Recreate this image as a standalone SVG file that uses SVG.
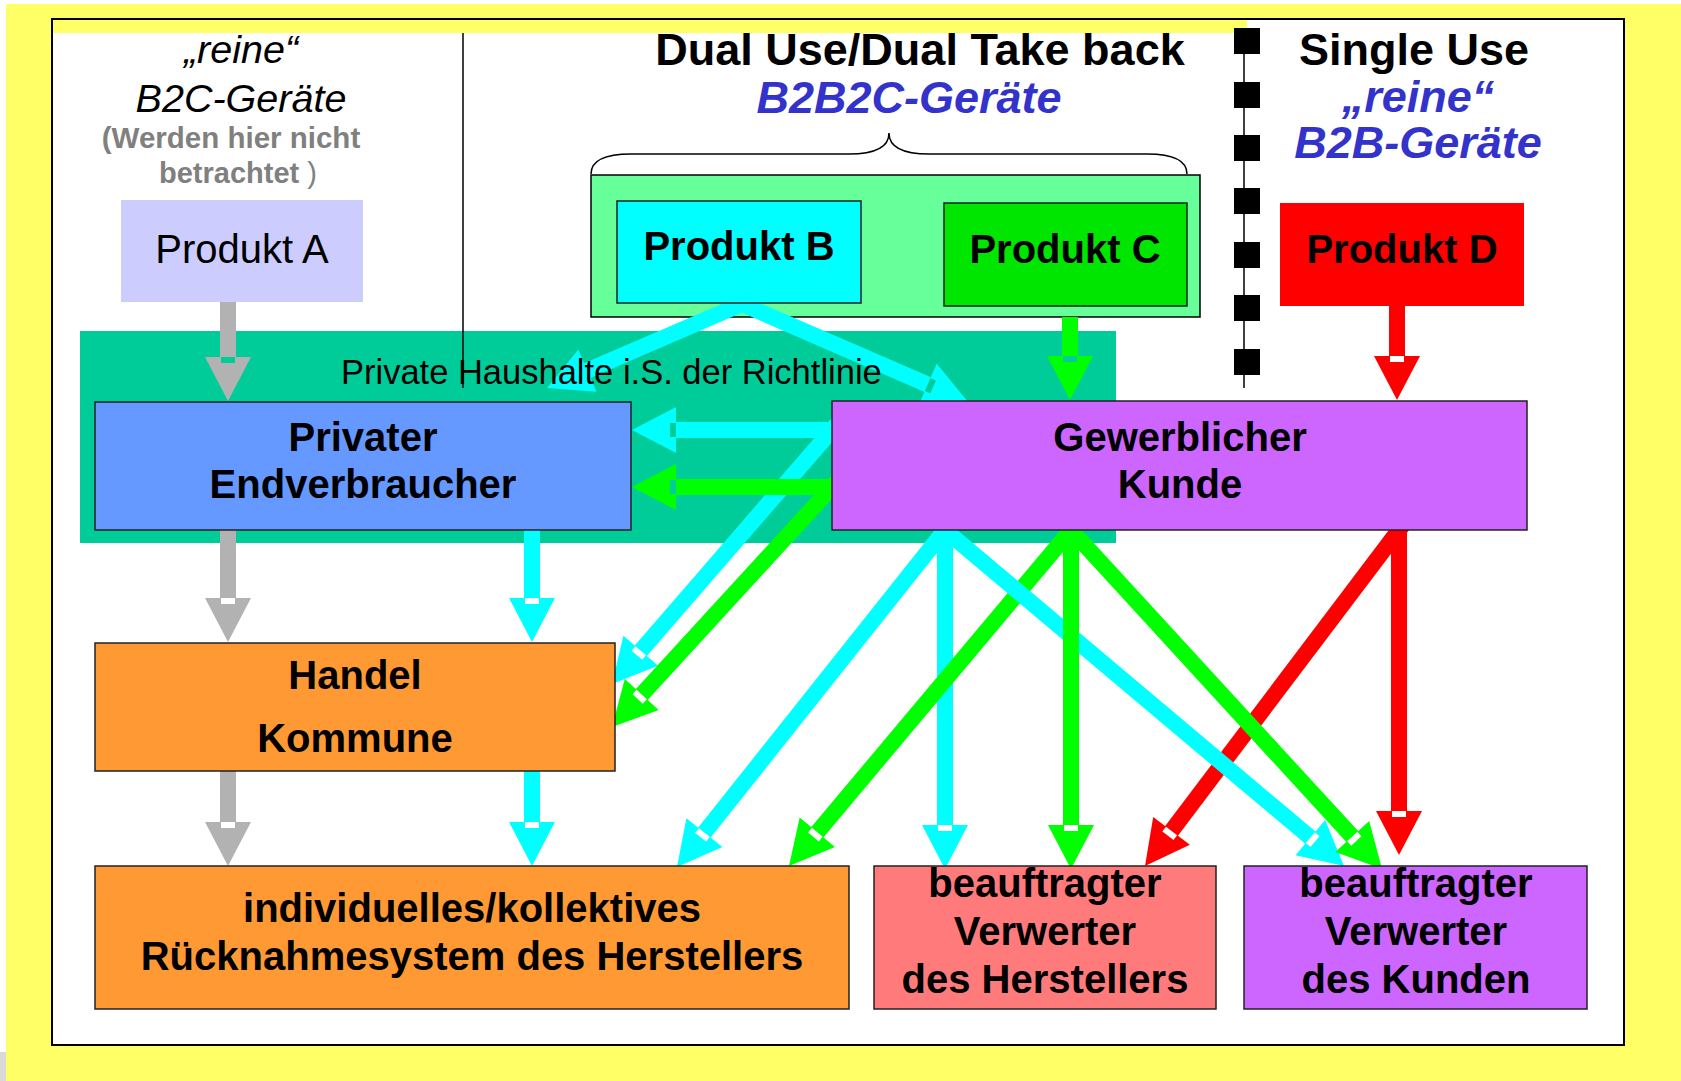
<svg xmlns="http://www.w3.org/2000/svg" xmlns:xlink="http://www.w3.org/1999/xlink" width="1681" height="1081" viewBox="0 0 1681 1081">
<style>
text{font-family:"Liberation Sans",Arial,Helvetica,sans-serif;fill:#000}
.b{font-weight:bold}
.c{text-anchor:middle}
.nt{font-size:40px;font-weight:bold;text-anchor:middle}
.box{stroke:#222;stroke-width:1.5}
.ttl{font-size:45px;font-weight:bold;text-anchor:middle}
.blue{fill:#3333CC;font-style:italic}
#connectors line,#connectors polyline{stroke-width:16;fill:none;stroke-linejoin:miter}
.gy{stroke:#B2B2B2}.cy{stroke:#00FFFF}.gn{stroke:#00FF00}.rd{stroke:#FF0000}
</style>
<defs>
<polygon id="tri" points="0,0 -44,-23 -44,23" fill="currentColor"/>
<g id="hd"><use xlink:href="#tri"/><rect x="-44" y="-7" width="6" height="14" fill="#fff"/></g>
<g id="hdg"><use xlink:href="#tri"/><rect x="-44" y="-7" width="6" height="14" fill="#00CC99"/></g>
</defs>
<rect x="0" y="0" width="1681" height="1081" fill="#fff"/>
<rect x="6" y="4" width="1675" height="1077" fill="#FFFF66"/>
<rect x="0" y="1052" width="6" height="29" fill="#D9D9D9"/>
<rect x="52" y="19" width="1572" height="1026" fill="#fff" stroke="#000" stroke-width="2"/>
<rect x="53" y="20" width="1194" height="13" fill="#FFFF66"/>

<g id="haushalte"><rect x="80" y="331" width="1036" height="212" fill="#00CC99"/></g>
<g id="gruppe-b2b2c">
<rect x="591" y="175" width="609" height="142" fill="#66FF99" stroke="#000" stroke-width="1.5"/>
<path d="M591,174 C591,161 604,154 631,154 L849,154 C875,154 889,148 889,133 C889,148 903,154 929,154 L1147,154 C1174,154 1187,161 1187,174" fill="none" stroke="#000" stroke-width="1.5"/>
</g>

<g id="connectors">
<line class="rd" x1="1397" y1="306" x2="1397" y2="360"/><use xlink:href="#hd" transform="translate(1397,400) rotate(90)" color="#FF0000"/>
<line class="rd" x1="1399" y1="520" x2="1399" y2="815"/><use xlink:href="#hd" transform="translate(1399,855) rotate(90)" color="#FF0000"/>
<line class="rd" x1="1406.2" y1="520.4" x2="1169.1" y2="834.1"/><use xlink:href="#hd" transform="translate(1145,866) rotate(127.1)" color="#FF0000"/>
<line class="gy" x1="228" y1="302" x2="228" y2="361"/><use xlink:href="#hdg" transform="translate(228,401) rotate(90)" color="#B2B2B2"/>
<line class="gy" x1="228" y1="529" x2="228" y2="602"/><use xlink:href="#hd" transform="translate(228,642) rotate(90)" color="#B2B2B2"/>
<line class="gy" x1="228" y1="770" x2="228" y2="826"/><use xlink:href="#hd" transform="translate(228,866) rotate(90)" color="#B2B2B2"/>
<line class="cy" x1="532" y1="529" x2="532" y2="602"/><use xlink:href="#hd" transform="translate(532,642) rotate(90)" color="#00FFFF"/>
<line class="cy" x1="532" y1="770" x2="532" y2="826"/><use xlink:href="#hd" transform="translate(532,866) rotate(90)" color="#00FFFF"/>
<polyline class="cy" points="583.7,372.2 742,304 931.3,386.1"/>
<use xlink:href="#tri" transform="translate(547,388) rotate(156.7)" color="#00FFFF"/>
<use xlink:href="#hdg" transform="translate(968,402) rotate(23.4)" color="#00FFFF"/>
<line class="cy" x1="838.5" y1="422.4" x2="638.2" y2="653.8"/><use xlink:href="#hd" transform="translate(612,684) rotate(130.9)" color="#00FFFF"/>
<line class="cy" x1="840" y1="430" x2="672" y2="430"/><use xlink:href="#hdg" transform="translate(632,430) rotate(180)" color="#00FFFF"/>
<line class="cy" x1="945" y1="520" x2="945" y2="829"/><use xlink:href="#hd" transform="translate(945,869) rotate(90)" color="#00FFFF"/>
<line class="cy" x1="952.5" y1="520.6" x2="701.9" y2="835.7"/><use xlink:href="#hd" transform="translate(677,867) rotate(128.5)" color="#00FFFF"/>
<line class="gn" x1="1070" y1="317" x2="1070" y2="360"/><use xlink:href="#hdg" transform="translate(1070,400) rotate(90)" color="#00FF00"/>
<line class="gn" x1="838.8" y1="479.6" x2="639" y2="697.5"/><use xlink:href="#hd" transform="translate(612,727) rotate(132.5)" color="#00FF00"/>
<line class="gn" x1="840" y1="487" x2="672" y2="487"/><use xlink:href="#hdg" transform="translate(632,487) rotate(180)" color="#00FF00"/>
<line class="gn" x1="1078.7" y1="520.8" x2="814.7" y2="835.4"/><use xlink:href="#hd" transform="translate(789,866) rotate(130)" color="#00FF00"/>
<line class="cy" x1="935.8" y1="522.3" x2="1313.4" y2="840.2"/><use xlink:href="#hd" transform="translate(1344,866) rotate(40.1)" color="#00FFFF"/>
<line class="gn" x1="1071" y1="520" x2="1071" y2="829"/><use xlink:href="#hd" transform="translate(1071,869) rotate(90)" color="#00FF00"/>
<line class="gn" x1="1062.9" y1="521.2" x2="1355" y2="839.5"/><use xlink:href="#hd" transform="translate(1382,869) rotate(47.5)" color="#00FF00"/>
</g>

<g id="produkt-a"><rect x="121" y="200" width="242" height="102" fill="#CCCCFF"/><text x="242" y="263" class="c" font-size="40">Produkt A</text></g>
<g id="produkt-b"><rect x="617" y="201" width="244" height="102" fill="#00FFFF" class="box"/><text x="739" y="260" class="nt">Produkt B</text></g>
<g id="produkt-c"><rect x="944" y="203" width="243" height="103" fill="#00E600" class="box"/><text x="1065" y="263" class="nt">Produkt C</text></g>
<g id="produkt-d"><rect x="1280" y="203" width="244" height="103" fill="#FF0000"/><text x="1402" y="263" class="nt">Produkt D</text></g>
<g id="privater-endverbraucher"><rect x="95" y="402" width="536" height="128" fill="#6699FF" class="box"/><text x="363" y="451" class="nt">Privater</text><text x="363" y="498" class="nt">Endverbraucher</text></g>
<g id="gewerblicher-kunde"><rect x="832" y="401" width="695" height="129" fill="#CC66FF" class="box"/><text x="1180" y="451" class="nt">Gewerblicher</text><text x="1180" y="498" class="nt">Kunde</text></g>
<g id="handel-kommune"><rect x="95" y="643" width="520" height="128" fill="#FF9933" class="box"/><text x="355" y="689" class="nt">Handel</text><text x="355" y="752" class="nt">Kommune</text></g>
<g id="ruecknahmesystem"><rect x="95" y="866" width="754" height="143" fill="#FF9933" class="box"/><text x="472" y="922" class="nt">individuelles/kollektives</text><text x="472" y="970" class="nt">Rücknahmesystem des Herstellers</text></g>
<g id="verwerter-hersteller"><rect x="874" y="866" width="342" height="143" fill="#FF7B7B" class="box"/><text x="1045" y="897" class="nt">beauftragter</text><text x="1045" y="945" class="nt">Verwerter</text><text x="1045" y="993" class="nt">des Herstellers</text></g>
<g id="verwerter-kunden"><rect x="1244" y="866" width="343" height="143" fill="#CC66FF" class="box"/><text x="1416" y="897" class="nt">beauftragter</text><text x="1416" y="945" class="nt">Verwerter</text><text x="1416" y="993" class="nt">des Kunden</text></g>

<g id="haushalte-label"><text x="341" y="384" font-size="34.5">Private Haushalte i.S. der Richtlinie</text></g>
<line x1="463" y1="33" x2="463" y2="388" stroke="#000" stroke-width="1.5"/>
<g id="trenner">
<line x1="1244" y1="28" x2="1244" y2="388" stroke="#000" stroke-width="1.5"/>
<g fill="#000">
<rect x="1234" y="28" width="26" height="26"/><rect x="1234" y="82" width="26" height="26"/><rect x="1234" y="135" width="26" height="26"/><rect x="1234" y="188" width="26" height="26"/><rect x="1234" y="242" width="26" height="26"/><rect x="1234" y="295" width="26" height="26"/><rect x="1234" y="349" width="26" height="26"/>
</g>
</g>
<g id="kopf-b2c">
<text x="241" y="63" class="c" font-size="39.5" font-style="italic">„reine“</text>
<text x="241" y="112" class="c" font-size="39.5" font-style="italic">B2C-Geräte</text>
<text x="231" y="148" class="c b" font-size="29.5" style="fill:#808080">(Werden hier nicht</text>
<text x="238" y="183" class="c" font-size="29" style="fill:#808080"><tspan font-weight="bold">betrachtet</tspan> )</text>
</g>
<g id="kopf-b2b2c">
<text x="920" y="65" class="ttl">Dual Use/Dual Take back</text>
<text x="909" y="113" class="ttl blue">B2B2C-Geräte</text>
</g>
<g id="kopf-b2b">
<text x="1414" y="65" class="ttl">Single Use</text>
<text x="1418" y="112" class="ttl blue">„reine“</text>
<text x="1418" y="158" class="ttl blue">B2B-Geräte</text>
</g>
</svg>
